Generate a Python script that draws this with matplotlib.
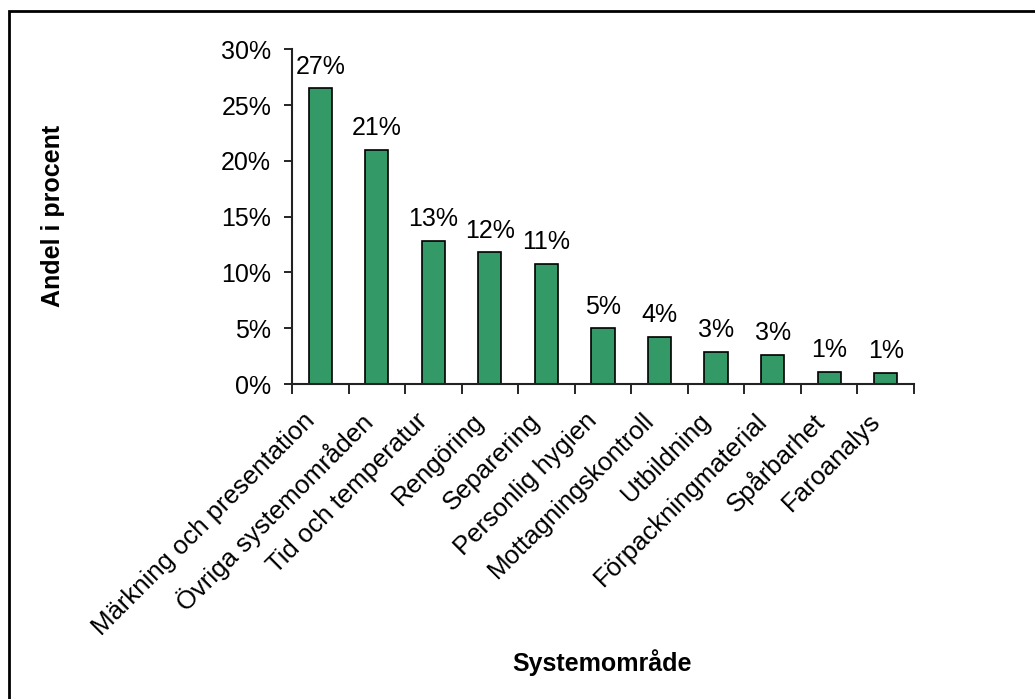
import matplotlib.pyplot as plt
import matplotlib.patches as mpatches
import matplotlib.transforms as mtransforms
import numpy as np
from matplotlib.ticker import PercentFormatter

plt.rcParams['font.family'] = ['Liberation Sans', 'DejaVu Sans']

# data
kategorier = ['Märkning och presentation', 'Övriga systemområden', 'Tid och temperatur',
              'Rengöring', 'Separering', 'Personlig hygien', 'Mottagningskontroll',
              'Utbildning', 'Förpackningmaterial', 'Spårbarhet', 'Faroanalys']
andel = [26.5, 21.0, 12.8, 11.8, 10.8, 5.0, 4.2, 2.9, 2.6, 1.1, 1.0]
etiketter = ['27%', '21%', '13%', '12%', '11%', '5%', '4%', '3%', '3%', '1%', '1%']

fs = 18

fig = plt.figure(figsize=(10.35, 6.99), dpi=100, facecolor='white')
ax = fig.add_axes([0.2821, 0.4506, 0.6010, 0.4789])

x = np.arange(len(kategorier))
bars = ax.bar(x, andel, width=0.41, color='#339966', edgecolor='black', linewidth=1.2)

for b, t in zip(bars, etiketter):
    ax.annotate(t, (b.get_x() + b.get_width() / 2, b.get_height()),
                xytext=(0, 7), textcoords='offset points',
                ha='center', va='bottom', fontsize=fs)

ax.set_xlim(-0.5, len(kategorier) - 0.5)
ax.set_ylim(0, 30)
ax.set_yticks(np.arange(0, 31, 5))
ax.yaxis.set_major_formatter(PercentFormatter(decimals=0))
ax.tick_params(axis='y', labelsize=fs, direction='out', length=6, width=1.2, pad=9)

# streck mellan kategorierna, etiketter i mitten
ax.set_xticks(np.arange(-0.5, len(kategorier), 1))
ax.set_xticklabels([])
ax.set_xticks(x, minor=True)
ax.set_xticklabels(kategorier, minor=True, rotation=45, ha='right', va='top',
                   rotation_mode='anchor', fontsize=18.5)
ax.tick_params(axis='x', which='major', direction='out', length=7, width=1.2)
ax.tick_params(axis='x', which='minor', length=0, pad=9)

# flytta etiketterna lite åt vänster/ned som i Excel
skift = mtransforms.ScaledTranslation(-18 / 100, -12 / 100, fig.dpi_scale_trans)
for lbl in ax.get_xticklabels(minor=True):
    lbl.set_transform(lbl.get_transform() + skift)

for s in ['top', 'right']:
    ax.spines[s].set_visible(False)
for s in ['left', 'bottom']:
    ax.spines[s].set_linewidth(1.5)
    ax.spines[s].set_color('#222222')

fig.text(0.0512, 0.691, 'Andel i procent', rotation=90, ha='center', va='center',
         fontsize=fs, fontweight='bold')
fig.text(0.5816, 0.0515, 'Systemområde', ha='center', va='center',
         fontsize=fs, fontweight='bold')

# ram runt diagrammet
ram = mpatches.Rectangle((8.5 / 1035, -0.1), 1.2, 1 - 11 / 699 + 0.1, transform=fig.transFigure,
                         fill=False, edgecolor='black', linewidth=2, zorder=10)
fig.patches.append(ram)

fig.savefig('out.png', dpi=100, facecolor='white')
